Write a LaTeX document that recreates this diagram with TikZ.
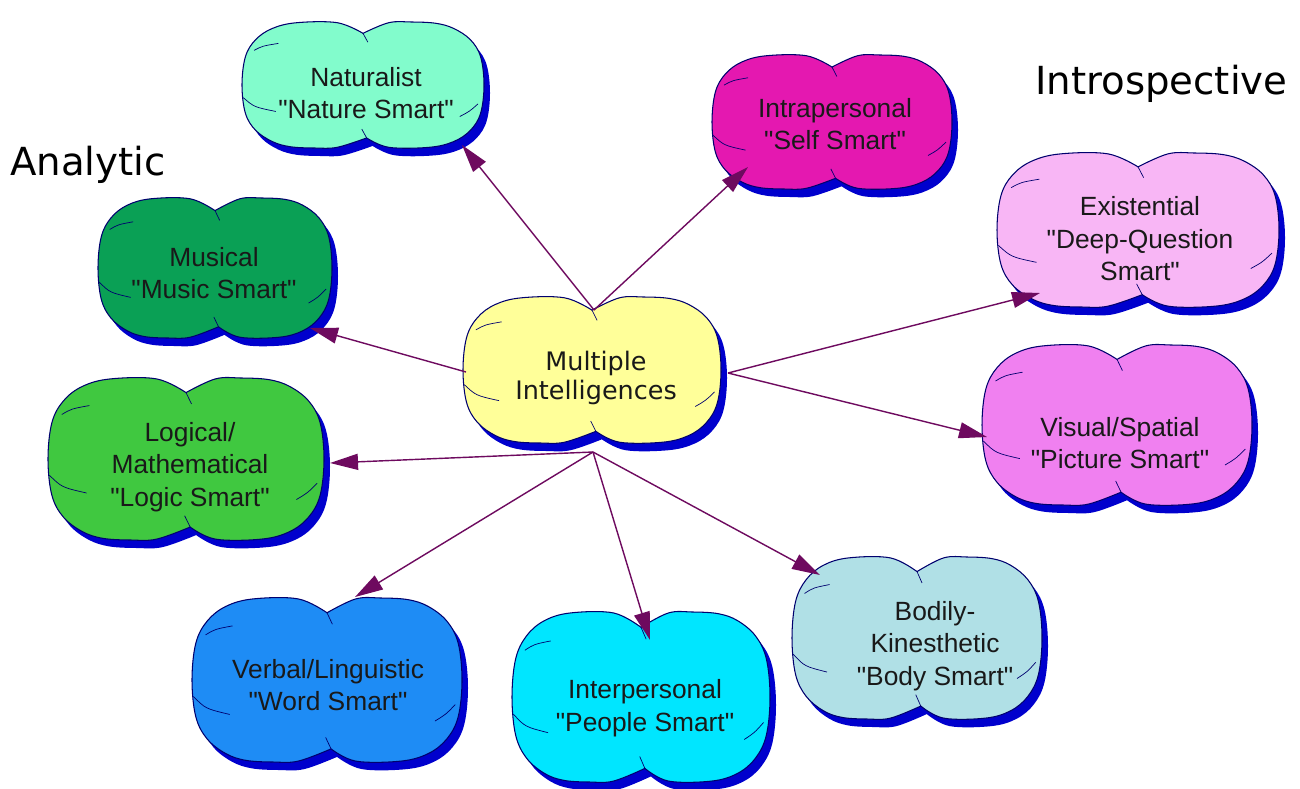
\documentclass[tikz,border=0pt]{standalone}
\usepackage{fontspec}
\setmainfont{Liberation Sans}
\newfontfamily\lsfont{Liberation Sans}
\newfontfamily\dvfont{DejaVu Sans}
\usetikzlibrary{arrows.meta,calc}
\newcommand\dq{\XeTeXglyph\numexpr\XeTeXcharglyph"22\relax\relax}
\definecolor{shadowc}{RGB}{0,0,205}
\definecolor{outlinec}{RGB}{0,0,110}
\definecolor{arrowc}{RGB}{110,10,95}
\definecolor{textc}{RGB}{25,25,25}
\definecolor{natc}{RGB}{130,252,204}
\definecolor{intrac}{RGB}{228,24,176}
\definecolor{existc}{RGB}{248,182,245}
\definecolor{musc}{RGB}{10,160,85}
\definecolor{mic}{RGB}{255,255,153}
\definecolor{visc}{RGB}{240,128,240}
\definecolor{logc}{RGB}{64,200,64}
\definecolor{verbc}{RGB}{30,140,245}
\definecolor{interc}{RGB}{0,230,255}
\definecolor{bodc}{RGB}{176,224,230}
\def\cloudpath{plot[smooth,tension=0.6] coordinates{(0,-0.82) (0.213,-0.989) (0.4,-1.0) (0.6,-0.98) (0.749,-0.898) (0.888,-0.718) (0.972,-0.447) (1,0) (0.972,0.447) (0.888,0.718) (0.749,0.898) (0.547,0.989) (0.213,0.989) (0.03,0.84)}
 -- plot[smooth,tension=0.6] coordinates{(0.03,0.84) (-0.213,0.989) (-0.4,1.0) (-0.6,0.98) (-0.749,0.898) (-0.888,0.718) (-0.972,0.447) (-1,0) (-0.972,-0.447) (-0.888,-0.718) (-0.749,-0.898) (-0.547,-0.989) (-0.213,-0.989) (0,-0.82)} -- cycle}
\def\cloudwrinkles{(0,-0.82) -- (0.04,-0.68) (0.03,0.84) -- (-0.01,0.70) (-0.90,-0.55) .. controls (-0.83,-0.62) .. (-0.70,-0.66) (-0.99,0.2) .. controls (-0.9,0.35) .. (-0.72,0.42) (0.95,0.3) .. controls (0.88,0.42) .. (0.8,0.5)}
\newcommand\cloudat[5]{%
  \begin{scope}[shift={(#1+6,#2+8)},xscale=#3,yscale=#4]
    \fill[shadowc] \cloudpath;
  \end{scope}
  \begin{scope}[shift={(#1,#2)},xscale=#3,yscale=#4]
    \fill[#5] \cloudpath;
    \draw[outlinec,line width=0.6pt] \cloudpath;
    \draw[outlinec,line width=0.4pt] \cloudwrinkles;
  \end{scope}}
\begin{document}
\begin{tikzpicture}[x=0.02cm,y=-0.02cm,
  lbl/.style={align=center,text=textc,inner sep=0pt,font=\lsfont\fontsize{15}{18.5}\selectfont},
  milbl/.style={align=center,text=textc,inner sep=0pt,font=\dvfont\fontsize{14.5}{17}\selectfont},
  side/.style={anchor=base west,inner sep=0pt,text=black,font=\dvfont\fontsize{22}{26}\selectfont},
  arr/.style={draw=arrowc,line width=0.8pt,-{Triangle[length=0.56cm,width=0.32cm]}}]
\fill[white] (0,0) rectangle (1300,788);
\useasboundingbox (0,0) rectangle (1300,788);

% clouds
\cloudat{363}{85}{121}{63}{natc}
\cloudat{832}{122}{120}{67}{intrac}
\cloudat{1138}{230}{141}{77}{existc}
\cloudat{215}{268}{117}{70}{musc}
\cloudat{592}{370}{129}{73}{mic}
\cloudat{1117}{425}{135}{80}{visc}
\cloudat{186}{459}{138}{81}{logc}
\cloudat{327}{680}{135}{82}{verbc}
\cloudat{641}{697}{129}{85}{interc}
\cloudat{917}{638}{125}{81}{bodc}

% texts
\node[lbl] (nat) at (366,93) {Naturalist\\\dq Nature Smart\dq};
\node[lbl] (intra) at (835,124) {Intrapersonal\\\dq Self Smart\dq};
\node[lbl] (exist) at (1140,239) {Existential\\\dq Deep-Question\\Smart\dq};
\node[lbl] (mus) at (214,273) {Musical\\\dq Music Smart\dq};
\node[milbl] (mi) at (596,378) {Multiple\\Intelligences};
\node[lbl] (vis) at (1120,443) {Visual/Spatial\\\dq Picture Smart\dq};
\node[lbl] (log) at (190,467) {Logical/\\Mathematical\\\dq Logic Smart\dq};
\node[lbl] (verb) at (328,685) {Verbal/Linguistic\\\dq Word Smart\dq};
\node[lbl] (inter) at (645,708) {Interpersonal\\\dq People Smart\dq};
\node[lbl] (bod) at (935,646) {Bodily-\\Kinesthetic\\\dq Body Smart\dq};

\node[side] (analytic) at (10,175) {Analytic};
\node[side] (intro) at (1035,94) {Introspective};

% connector start points on the central cloud
\coordinate (mitop) at ($(mi)+(-2,-68)$);
\coordinate (mileft) at ($(mi)+(-130,-6)$);
\coordinate (miright) at ($(mi)+(132,-5)$);
\coordinate (mibot) at ($(mi)+(-3,74)$);

% connectors
\draw[arr] (mitop) -- ($(nat)+(96,52)$);
\draw[arr] (mitop) -- ($(intra)+(-87,43)$);
\draw[arr] (mileft) -- ($(mus)+(96,55)$);
\draw[arr] (miright) -- ($(exist)+(-100,54)$);
\draw[arr] (miright) -- ($(vis)+(-133,-6)$);
\draw[arr] (mibot) -- ($(log)+(140,-4)$);
\draw[arr] (mibot) -- ($(verb)+(27,-88)$);
\draw[arr] (mibot) -- ($(inter)+(5,-68)$);
\draw[arr] (mibot) -- ($(bod)+(-115,-71)$);
\end{tikzpicture}
\end{document}
